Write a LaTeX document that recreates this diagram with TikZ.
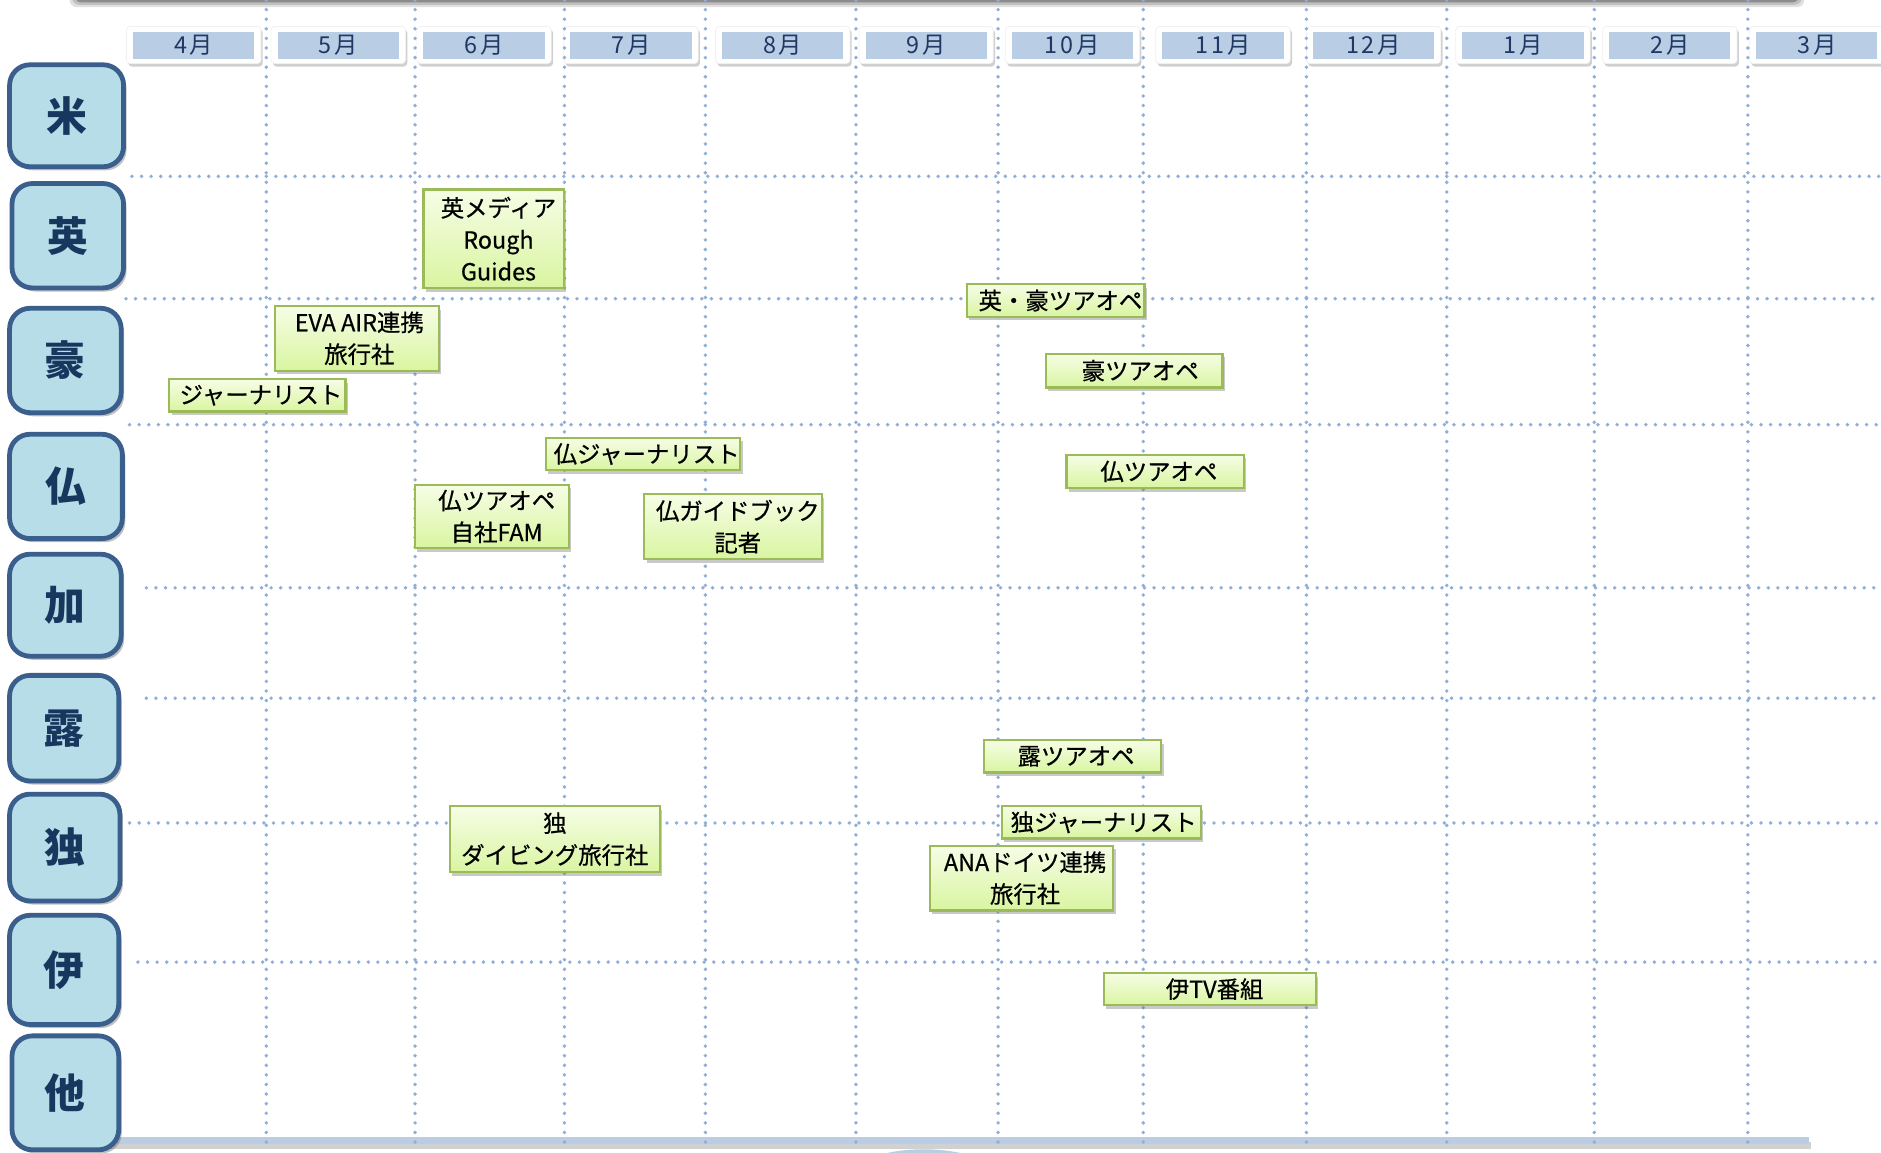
\documentclass[tikz,border=0pt]{standalone}
\usepackage{fontspec}
\newfontfamily\jp{Noto Sans CJK JP}
\newfontfamily\jpev[FakeBold=0.6]{Noto Sans CJK JP}
\newfontfamily\jpmo[LetterSpace=12]{Noto Sans CJK JP}
\usetikzlibrary{shadows}
\definecolor{dotc}{HTML}{8FAFD9}
\definecolor{hdrblue}{HTML}{B9CDE5}
\definecolor{navy}{HTML}{1F3864}
\definecolor{rowfill}{HTML}{B7DEE8}
\definecolor{rowborder}{HTML}{3A5F8C}
\definecolor{rowtext}{HTML}{17375E}
\definecolor{evborder}{HTML}{9BBB59}
\definecolor{evtop}{HTML}{F6FDE6}
\definecolor{evbot}{HTML}{D9F5A0}
\tikzset{
  gridline/.style={draw=dotc, line width=3.2pt, line cap=round, dash pattern=on 0pt off 8pt},
  monthbox/.style={fill=white, draw=black!6, line width=0.6pt, rounded corners=3pt,
    drop shadow={shadow xshift=1.5pt, shadow yshift=-2.5pt, opacity=0.3, fill=black!60},
    minimum width=112pt, minimum height=31pt, inner sep=0pt},
  monthband/.style={fill=hdrblue, minimum width=101pt, minimum height=22pt, inner sep=0pt,
    text=navy, font=\jpmo\fontsize{19.5}{19.5}\selectfont},
  rowlab/.style={rounded corners=17pt, fill=rowfill, draw=rowborder, line width=4pt,
    drop shadow={shadow xshift=2.5pt, shadow yshift=-3pt, opacity=0.4, fill=black!60},
    inner sep=0pt, text=rowtext, font=\jp\bfseries\fontsize{34}{34}\selectfont},
  evt/.style={draw=evborder, line width=1.8pt, top color=evtop, bottom color=evbot,
    drop shadow={shadow xshift=2pt, shadow yshift=-3pt, opacity=0.35, fill=black!60},
    inner sep=0pt, align=center, text=black, font=\jpev\fontsize{19.5}{26.5}\selectfont}
}
\begin{document}
\begin{tikzpicture}[x=1pt,y=-1pt]
\useasboundingbox (0,0) rectangle (1568,961);
\clip (0,0) rectangle (1568,961);
\fill[white] (0,0) rectangle (1568,961);

% top shadowed bar (cut off)
\fill[black!12, rounded corners=6pt] (58,-30) rectangle (1504,6);
\fill[black!25, rounded corners=6pt] (60,-30) rectangle (1502,4);
\fill[black!45, rounded corners=6pt] (62,-30) rectangle (1500,2);

% bottom bar and circle
\fill[hdrblue] (770,1108) circle (150);
\fill[black!18] (60,952) rectangle (1510,958);
\fill[hdrblue] (58,947.5) rectangle (1508,953.5);

% month headers
\foreach \cx/\lab/\nm in {161.5/4月/m4, 282/5月/m5, 403.5/6月/m6, 526/7月/m7, 652.5/8月/m8,
  772/9月/m9, 894/10月/m10, 1019.5/11月/m11, 1145/12月/m12, 1269.5/1月/m1, 1392/2月/m2, 1514.5/3月/m3}{
  \node[monthbox] (\nm box) at (\cx,37.5) {};
  \node[monthband] (\nm) at (\cx,38) {\lab};
}

% grid
\foreach \gx in {222,346,470.5,588,713.5,832,953,1089,1206,1329,1457}{
  \draw[gridline] (\gx,0) -- (\gx,958);
}
\foreach \ga/\gy in {110/147, 105/249, 108/354, 122/490, 122/582, 108/686, 115/802}{
  \draw[gridline] (\ga,\gy) -- (1568,\gy);
}

% row labels
\node[rowlab, minimum width=95pt, minimum height=85pt] (us) at (55.5,96.5) {米};
\node[rowlab, minimum width=93pt, minimum height=87pt] (uk) at (56.5,196.5) {英};
\node[rowlab, minimum width=93pt, minimum height=87pt] (au) at (54.5,300.5) {豪};
\node[rowlab, minimum width=94pt, minimum height=87pt] (fr) at (55,405.5) {仏};
\node[rowlab, minimum width=93pt, minimum height=85pt] (ca) at (54.5,504.5) {加};
\node[rowlab, minimum width=91pt, minimum height=88pt] (ru) at (53.5,607) {露};
\node[rowlab, minimum width=92pt, minimum height=89pt] (de) at (54,706.5) {独};
\node[rowlab, minimum width=91pt, minimum height=91pt] (it) at (53.5,808.5) {伊};
\node[rowlab, minimum width=89pt, minimum height=95pt] (ot) at (54.5,911) {他};

% events
\node[evt, minimum width=117pt, minimum height=82pt] (e1) at (411.5,199) {\hspace*{8pt}英メディア\\\hspace*{8pt}Rough\\\hspace*{8pt}Guides};
\node[evt, minimum width=137pt, minimum height=54pt] (e2) at (297.5,282) {\hspace*{4pt}EVA AIR連携\\\hspace*{4pt}旅行社};
\node[evt, minimum width=147pt, minimum height=27pt] (e3) at (214.5,329.5) {\hspace*{6pt}ジャーナリスト};
\node[evt, minimum width=148pt, minimum height=27pt] (e4) at (880,250.5) {\hspace*{8pt}英・豪ツアオペ};
\node[evt, minimum width=147pt, minimum height=28pt] (e5) at (945.5,309) {\hspace*{10pt}豪ツアオペ};
\node[evt, minimum width=162pt, minimum height=27pt] (e6) at (536,378.5) {\hspace*{6pt}仏ジャーナリスト};
\node[evt, minimum width=148pt, minimum height=28pt] (e7) at (963,393) {\hspace*{6pt}仏ツアオペ};
\node[evt, minimum width=128pt, minimum height=53pt] (e8) at (410,430.5) {\hspace*{8pt}仏ツアオペ\\\hspace*{8pt}自社FAM};
\node[evt, minimum width=148pt, minimum height=54pt] (e9) at (611,439) {\hspace*{8pt}仏ガイドブック\\\hspace*{8pt}記者};
\node[evt, minimum width=148pt, minimum height=27pt] (e10) at (894,630.5) {\hspace*{6pt}露ツアオペ};
\node[evt, minimum width=166pt, minimum height=27pt] (e11) at (918,685.5) {\hspace*{4pt}独ジャーナリスト};
\node[evt, minimum width=175pt, minimum height=55pt] (e12) at (462.5,699.5) {独\\ダイビング旅行社};
\node[evt, minimum width=153pt, minimum height=54pt] (e13) at (851.5,732) {\hspace*{6pt}ANAドイツ連携\\\hspace*{6pt}旅行社};
\node[evt, minimum width=177pt, minimum height=27pt] (e14) at (1008.5,824.5) {\hspace*{8pt}伊TV番組};
\end{tikzpicture}
\end{document}
